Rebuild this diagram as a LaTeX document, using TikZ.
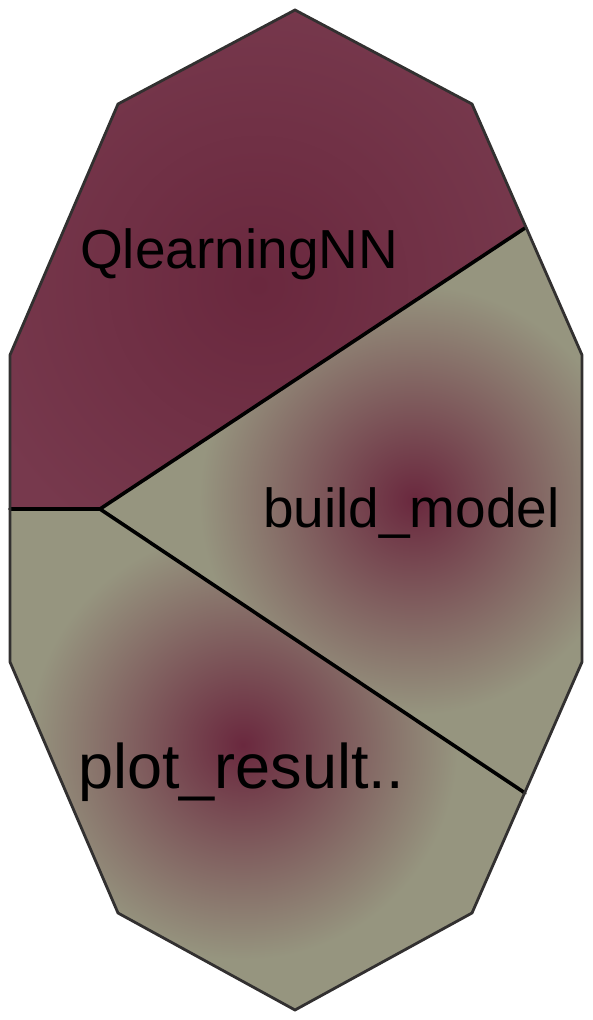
\documentclass[tikz,border=0pt]{standalone}
\usepackage{fontspec}
\setmainfont{Liberation Sans}
\usepackage{tikz}
\usetikzlibrary{positioning}
\definecolor{myplum}{RGB}{106,40,62}
\definecolor{myplumlt}{RGB}{119,57,77}
\definecolor{mysage}{RGB}{150,149,127}
\definecolor{myrim}{RGB}{50,48,48}
\tikzset{
  cell/.style={line width=3.6pt, draw=black, line cap=round},
  rim/.style={line width=2.8pt, draw=myrim, line join=miter},
  lbl/.style={anchor=base west, inner sep=0pt, text=black},
  glow/.style={inner color=myplum, outer color=mysage}
}

\begin{document}
\begin{tikzpicture}[x=1pt, y=-1pt]
  \useasboundingbox (0,0) rectangle (592,1020);
  % outline of the decagon
  \coordinate (top) at (295,10);
  \coordinate (ne) at (472,104);
  \coordinate (e1) at (582,355);
  \coordinate (e2) at (582,662);
  \coordinate (se) at (472,913);
  \coordinate (bot) at (295,1010);
  \coordinate (sw) at (118,913);
  \coordinate (w2) at (10,662);
  \coordinate (w1) at (10,355);
  \coordinate (nw) at (118,104);
  % cell borders
  \coordinate (jn) at (100,509);
  \coordinate (l0) at (10,509);
  \coordinate (r1) at (525,228);
  \coordinate (r2) at (525,793);

  \begin{scope}
    \clip (l0) -- (w1) -- (nw) -- (top) -- (ne) -- (r1) -- (jn) -- cycle;
    \fill[myplumlt] (0,0) rectangle (592,520);
    \shade[inner color=myplum, outer color=myplumlt] (258,285) circle (300pt);
  \end{scope}
  \begin{scope}
    \clip (jn) -- (r1) -- (e1) -- (e2) -- (r2) -- cycle;
    \fill[mysage] (90,220) rectangle (592,800);
    \shade[glow] (414,500) circle (215pt);
  \end{scope}
  \begin{scope}
    \clip (l0) -- (jn) -- (r2) -- (se) -- (bot) -- (sw) -- (w2) -- cycle;
    \fill[mysage] (0,500) rectangle (592,1020);
    \shade[glow] (243,745) circle (215pt);
  \end{scope}

  \draw[cell] (l0) -- (jn) -- (r1);
  \draw[cell] (jn) -- (r2);
  \draw[rim] (top) -- (ne) -- (e1) -- (e2) -- (se) -- (bot) -- (sw) -- (w2) -- (w1) -- (nw) -- cycle;

  \node[lbl, font=\fontsize{55}{62}\selectfont] (qnn) at (80,268) {QlearningNN};
  \node[lbl, font=\fontsize{55}{62}\selectfont] (build) at (263,527) {build\_model};
  \node[lbl, font=\fontsize{63}{70}\selectfont] (plot) at (78,788) {plot\_result..};
\end{tikzpicture}
\end{document}
